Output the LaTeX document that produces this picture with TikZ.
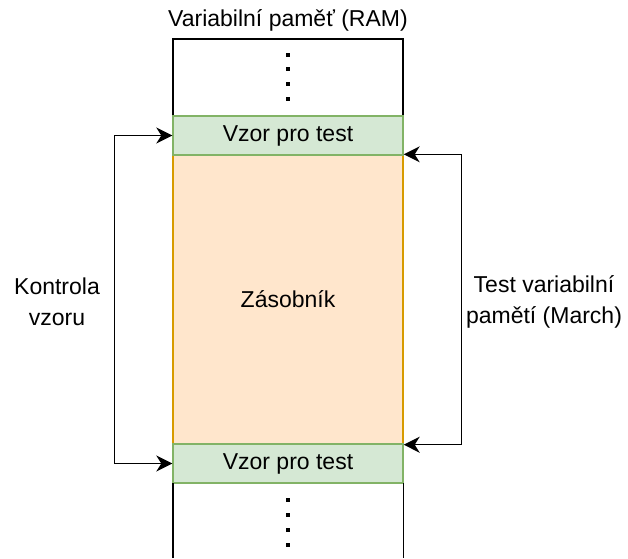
\documentclass[tikz,border=0pt]{standalone}
\usepackage{fontspec}
\setmainfont{Liberation Sans}
\usetikzlibrary{arrows.meta}
\definecolor{greenfill}{HTML}{D5E8D4}
\definecolor{greenline}{HTML}{82B366}
\definecolor{orangefill}{HTML}{FFE6CC}
\definecolor{orangeline}{HTML}{D79B00}
\begin{document}
\begin{tikzpicture}[x=1pt,y=-1pt,
  every node/.style={font=\fontsize{23}{31}\selectfont, inner sep=0pt},
  cell/.style={minimum width=230pt, anchor=center},
  ramcell/.style={cell, draw=black, line width=1.4pt, fill=white},
  pattern/.style={cell, draw=greenline, line width=1.4pt, fill=greenfill, minimum height=39pt},
  stackcell/.style={cell, draw=orangeline, line width=1.4pt, fill=orangefill, minimum height=289pt},
  conn/.style={line width=1.4pt, {Stealth[length=16pt,width=16pt,inset=5pt]}-{Stealth[length=16pt,width=16pt,inset=5pt]}},
  dot/.style={fill=black, minimum size=4pt}]
\useasboundingbox (0,0) rectangle (628,558);
\clip (0,0) rectangle (628,558);

% memory column
\node[ramcell, minimum height=77pt] (ramtop) at (288,77.5) {};
\node[stackcell] (stack) at (288,299.5) {Zásobník};
\node[pattern] (vzor1) at (288,135.5) {Vzor pro test};
\node[pattern] (vzor2) at (288,463.5) {Vzor pro test};
\node[cell, minimum height=75pt] (rambot) at (288,520.5) {};
\draw[line width=1.4pt] (rambot.south west) -- (rambot.north west)
  (rambot.north east) -- (rambot.south east);

% ellipsis dots
\foreach \y [count=\i] in {55,69,84,99} \node[dot] (dt\i) at (288,\y) {};
\foreach \y [count=\i] in {500,515,530,545} \node[dot] (db\i) at (288,\y) {};

% captions
\node (title) at (288,20) {Variabilní paměť (RAM)};
\node[align=center] (check) at (57,302) {Kontrola\\vzoru};
\node[align=center] (march) at (544,302) {Test variabilní\\pamětí (March)};

% connectors
\draw[conn] (vzor2.west) -- ++(-58,0) |- (vzor1.west);
\draw[conn] (stack.north east) -- ++(58,0) |- (stack.south east);
\end{tikzpicture}
\end{document}
